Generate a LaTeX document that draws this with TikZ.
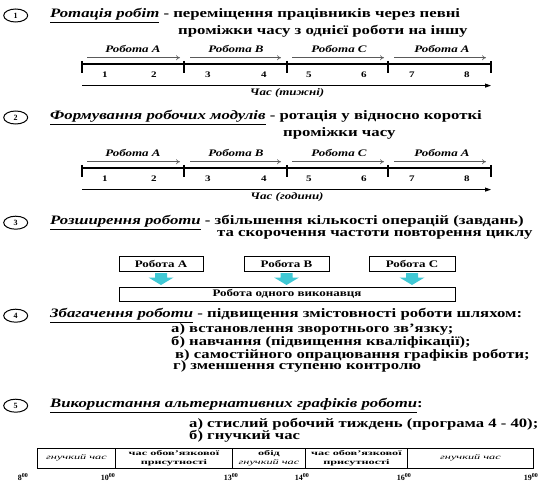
\documentclass[tikz,border=0pt]{standalone}
\usepackage{fontspec}
\setmainfont{Liberation Serif}
\usetikzlibrary{arrows.meta,shapes.geometric,calc}
\newcommand{\hs}[1]{\scalebox{1.3}[1]{#1}}
\newcommand{\hsc}[1]{\scalebox{1.75}[1]{#1}}
\newcommand{\hu}[1]{\underline{\textit{#1}}}
\definecolor{arrcyan}{RGB}{64,200,212}
\definecolor{arrgray}{RGB}{90,90,90}
\tikzset{
  numcirc/.style={draw, ellipse, line width=1pt, minimum width=24pt, minimum height=13pt, inner sep=0pt, font=\bfseries\fontsize{8}{8}\selectfont},
  ttl/.style={anchor=west, inner sep=0pt, font=\bfseries\fontsize{12.9}{12.9}\selectfont},
  itemtxt/.style={anchor=west, inner sep=0pt, font=\bfseries\fontsize{12.8}{12.8}\selectfont},
  joblbl/.style={inner sep=0pt, font=\bfseries\itshape\fontsize{10}{10}\selectfont},
  jobarr/.style={-{To[length=4pt,width=5pt]}, line width=0.6pt, arrgray},
  tline/.style={line width=1.5pt},
  tickln/.style={line width=1.1pt},
  tnum/.style={inner sep=0pt, font=\bfseries\fontsize{8.5}{8.5}\selectfont},
  axisarr/.style={-{Triangle[length=6pt,width=4pt]}, line width=0.8pt},
  axlbl/.style={inner sep=0pt, font=\bfseries\itshape\fontsize{10}{10}\selectfont},
  jobbox/.style={draw, line width=0.9pt, inner sep=0pt, minimum height=14.5pt, font=\bfseries\fontsize{10}{10}\selectfont},
  cell/.style={draw, line width=0.9pt, inner sep=0pt, minimum height=20pt, anchor=north west, align=center, font=\bfseries\fontsize{7}{8.5}\selectfont},
  hourlbl/.style={inner sep=0pt, font=\bfseries\fontsize{8}{8}\selectfont}
}
\newcommand{\jobline}[3]{%
  \begin{scope}[yshift=-#2pt]
    \foreach \x/\k in {82/0,184/1,287/2,388/3,491/4}{\coordinate (#1t\k) at (\x,64);}
    \draw[tline] (#1t0) -- (#1t4);
    \foreach \k in {0,...,4}{\draw[tickln] ([yshift=3pt]#1t\k) -- ([yshift=-9pt]#1t\k);}
    \foreach \x/\l [count=\i] in {133/Робота A,236/Робота B,339/Робота C,442/Робота A}{\node[joblbl] (#1j\i) at (\x,49) {\hs{\l}};}
    \foreach \a/\b [count=\i] in {87/180,190/281,292/384,394/486}{%
      \coordinate (#1a\i) at (\a,57.7); \coordinate (#1b\i) at (\b,57.7);
      \draw[jobarr] (#1a\i) -- (#1b\i);}
    \foreach \x [count=\i] in {105,154,208,264,309,364,412,467}{\node[tnum] (#1n\i) at (\x,75) {\hs{\i}};}
    \coordinate (#1x0) at (82,85.6); \coordinate (#1x1) at (491,85.6);
    \draw[axisarr] (#1x0) -- (#1x1);
    \node[axlbl] (#1xl) at (287,93.5) {\hs{#3}};
  \end{scope}}
\newcommand{\cyanarrow}[1]{%
  \fill[arrcyan] ([xshift=-6pt,yshift=-1.5pt]#1.south) -- ++(12,0) -- ++(0,4.5) -- ++(6.5,0) -- ++(-12.5,7.5) -- ++(-12.5,-7.5) -- ++(6.5,0) -- cycle;}
\begin{document}
\begin{tikzpicture}[x=1pt,y=-1pt]
\useasboundingbox (0,0) rectangle (548,489);
\fill[white] (0,0) rectangle (548,489);
% ---- 1
\node[numcirc] (c1) at (15.7,15.5) {1};
\node[ttl] (t1a) at (50,15.7) {\hs{\hu{Ротація робіт} - переміщення працівників через певні}};
\node[ttl] (t1b) at (178,30.8) {\hs{проміжки часу з однієї роботи на іншу}};
\jobline{p}{0}{Час (тижні)}
% ---- 2
\node[numcirc] (c2) at (15.7,117.5) {2};
\node[ttl] (t2a) at (50,117.5) {\hs{\hu{Формування робочих модулів} - ротація у відносно короткі}};
\node[ttl] (t2b) at (283,133) {\hs{проміжки часу}};
\jobline{q}{104}{Час (години)}
% ---- 3
\node[numcirc] (c3) at (15.7,222.7) {3};
\node[ttl] (t3a) at (50,222.7) {\hs{\hu{Розширення роботи} - збільшення кількості операцій (завдань)}};
\node[ttl] (t3b) at (217,235) {\hs{та скорочення частоти повторення циклу}};
\node[jobbox, minimum width=84pt] (bA) at (161,263.8) {\hs{Робота A}};
\node[jobbox, minimum width=85pt] (bB) at (286.5,263.8) {\hs{Робота B}};
\node[jobbox, minimum width=86pt] (bC) at (412,263.8) {\hs{Робота C}};
\node[jobbox, minimum width=336pt, minimum height=14pt] (bAll) at (287,294) {\hs{Робота одного виконавця}};
\cyanarrow{bA}
\cyanarrow{bB}
\cyanarrow{bC}
% ---- 4
\node[numcirc] (c4) at (15.7,315.7) {4};
\node[ttl] (t4a) at (50,315.7) {\hs{\hu{Збагачення роботи} - підвищення змістовності роботи шляхом:}};
\node[itemtxt] (i4a) at (171,329.7) {\hs{а) встановлення зворотнього зв'язку;}};
\node[itemtxt] (i4b) at (171,342) {\hs{б) навчання (підвищення кваліфікації);}};
\node[itemtxt] (i4c) at (175,355) {\hs{в) самостійного опрацювання графіків роботи;}};
\node[itemtxt] (i4d) at (173,366.4) {\hs{г) зменшення ступеню контролю}};
% ---- 5
\node[numcirc] (c5) at (15.7,405.7) {5};
\node[ttl] (t5a) at (50,405.7) {\hs{\hu{Використання альтернативних графіків роботи}:}};
\node[itemtxt] (t5b) at (189,424) {\hs{а) стислий робочий тиждень (програма 4 - 40);}};
\node[itemtxt] (t5c) at (189,436) {\hs{б) гнучкий час}};
\node[cell, minimum width=78pt] (f1) at (37,447.7) {\mdseries\itshape\hsc{гнучкий час}};
\node[cell, minimum width=117pt] (f2) at (115,447.7) {\hsc{час обов'язкової}\\\hsc{присутності}};
\node[cell, minimum width=73pt] (f3) at (232,447.7) {\hsc{обід}\\\mdseries\itshape\hsc{гнучкий час}};
\node[cell, minimum width=102pt] (f4) at (305,447.7) {\hsc{час обов'язкової}\\\hsc{присутності}};
\node[cell, minimum width=126pt] (f5) at (407,447.7) {\mdseries\itshape\hsc{гнучкий час}};
\node[hourlbl] (h1) at (23,477) {8\textsuperscript{00}};
\node[hourlbl] (h2) at (108,477) {10\textsuperscript{00}};
\node[hourlbl] (h3) at (231,477) {13\textsuperscript{00}};
\node[hourlbl] (h4) at (302,477) {14\textsuperscript{00}};
\node[hourlbl] (h5) at (404,477) {16\textsuperscript{00}};
\node[hourlbl] (h6) at (531,477) {19\textsuperscript{00}};
\end{tikzpicture}
\end{document}
